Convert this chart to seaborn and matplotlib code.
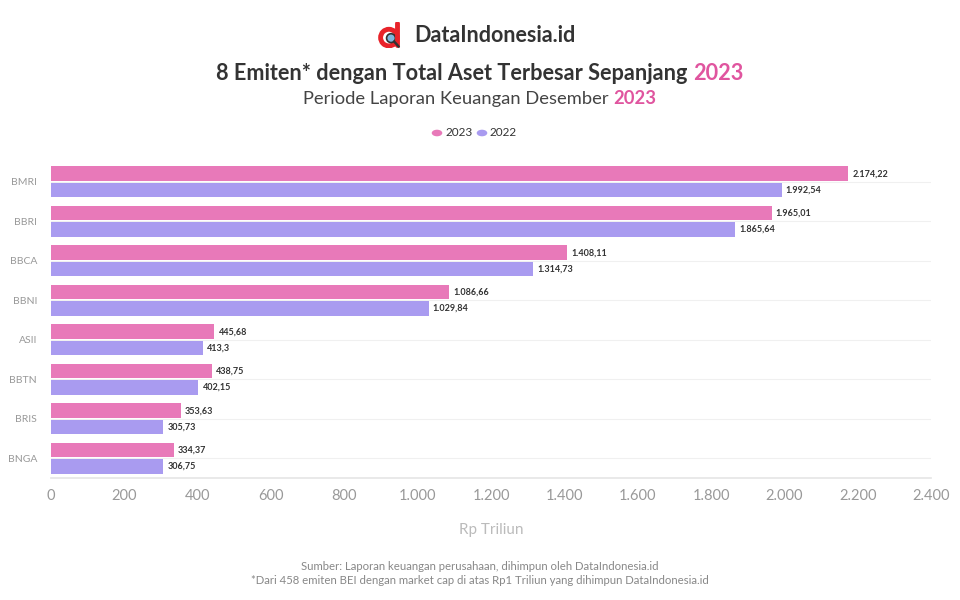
import matplotlib
matplotlib.use("Agg")
import matplotlib.pyplot as plt
import seaborn as sns
import pandas as pd
from matplotlib.patches import Circle

emiten = ["BMRI", "BBRI", "BBCA", "BBNI", "ASII", "BBTN", "BRIS", "BNGA"]
aset_2023 = [2174.22, 1965.01, 1408.11, 1086.66, 445.68, 438.75, 353.63, 334.37]
aset_2022 = [1992.54, 1865.64, 1314.73, 1029.84, 413.30, 402.15, 305.73, 306.75]
years = ["2023", "2022"]
x_ticks = [0, 200, 400, 600, 800, 1000, 1200, 1400, 1600, 1800, 2000, 2200, 2400]

PINK = "#E879B9"
PURPLE = "#A99BF0"
TITLE_PINK = "#E0559F"

df = pd.DataFrame({
    "Emiten": emiten * 2,
    "Tahun": [years[0]] * len(emiten) + [years[1]] * len(emiten),
    "Aset": aset_2023 + aset_2022,
})

sns.set_theme(style="white")
plt.rcParams["font.family"] = ["Lato", "DejaVu Sans"]

fig = plt.figure(figsize=(9.6, 6), dpi=100)
ax = fig.add_axes([51 / 960, (600 - 478) / 600, 880 / 960, (478 - 162) / 600])

sns.barplot(data=df, y="Emiten", x="Aset", hue="Tahun", order=emiten,
            hue_order=years, palette={years[0]: PINK, years[1]: PURPLE},
            orient="h", width=0.82, gap=0.1, ax=ax, legend=False,
            linewidth=0, saturation=1)

ax.set_xlim(0, 2400)
ax.set_ylim(len(emiten) - 0.5, -0.5)


def fmt(v, dec=2):
    s = f"{v:,.{dec}f}"
    if "." in s:
        s = s.rstrip("0").rstrip(".")
    return s.replace(",", "X").replace(".", ",").replace("X", ".")


for cont in ax.containers:
    labels = [fmt(b.get_width()) for b in cont]
    ax.bar_label(cont, labels=labels, padding=3, fontsize=6.5,
                 fontweight="bold", color="#333333")

ax.set_xticks(x_ticks)
ax.set_xticklabels([fmt(t, 0) for t in x_ticks], fontsize=10.5, color="#999999")
ax.tick_params(axis="x", length=4, color="#e6e6e6", pad=8, direction="in")
ax.tick_params(axis="y", length=0, pad=10, labelsize=7.5, labelcolor="#999999")
for i in range(len(emiten)):
    ax.axhline(i, color="#f0f0f0", lw=0.8, zorder=0)

for s in ["top", "right", "left"]:
    ax.spines[s].set_visible(False)
ax.spines["bottom"].set_color("#e6e6e6")
ax.set_ylabel("")
ax.set_xlabel("Rp Triliun", fontsize=11, color="#bbbbbb", labelpad=14)

# Header logo
logo_ax = fig.add_axes([378 / 960, (600 - 48) / 600, 26 / 960, 26 / 600])
logo_ax.set_xlim(0, 1); logo_ax.set_ylim(0, 1); logo_ax.axis("off")
logo_ax.add_patch(Circle((0.42, 0.4), 0.32, fc="none", ec="#E8232A", lw=3.5))
logo_ax.plot([0.74, 0.74], [0.1, 0.95], color="#E8232A", lw=3.5)
logo_ax.add_patch(Circle((0.5, 0.38), 0.17, fc="#7FB8E0", ec="#333333", lw=1.2))
logo_ax.plot([0.62, 0.8], [0.25, 0.05], color="#333333", lw=1.8)
fig.text(414 / 960, 1 - 35 / 600, "DataIndonesia.id", fontsize=15.5,
         fontweight="bold", color="#333333", va="center", ha="left")

# Title with coloured year
def colored_line(y, parts, size, weight_list):
    renderer = fig.canvas.get_renderer()
    texts = []
    total = 0
    for (s, c), w in zip(parts, weight_list):
        t = fig.text(0, y, s, fontsize=size, color=c, fontweight=w, va="center")
        bb = t.get_window_extent(renderer=renderer)
        texts.append((t, bb.width))
        total += bb.width
    x = (fig.bbox.width - total) / 2
    for t, w in texts:
        t.set_x(x / fig.bbox.width)
        x += w

colored_line(1 - 73 / 600, [("8 Emiten* dengan Total Aset Terbesar Sepanjang ", "#333333"),
                            ("2023", TITLE_PINK)], 15.6, ["bold", "bold"])
colored_line(1 - 99 / 600, [("Periode Laporan Keuangan Desember ", "#444444"),
                            ("2023", TITLE_PINK)], 13.2, ["normal", "bold"])

# Legend
leg_items = [(years[0], PINK), (years[1], PURPLE)]
lx = 437
for lab, col in leg_items:
    fig.patches.append(Circle((lx / 960, 1 - 133 / 600), 0.0055, transform=fig.transFigure,
                              fc=col, ec="none"))
    t = fig.text((lx + 8) / 960, 1 - 133 / 600, lab, fontsize=8.5, color="#333333", va="center")
    lx += 45

fig.text(0.5, 1 - 567 / 600, "Sumber: Laporan keuangan perusahaan, dihimpun oleh DataIndonesia.id",
         fontsize=8.2, color="#888888", ha="center", va="center")
fig.text(0.5, 1 - 581 / 600, "*Dari 458 emiten BEI dengan market cap di atas Rp1 Triliun yang dihimpun DataIndonesia.id",
         fontsize=8.2, color="#888888", ha="center", va="center")

fig.savefig("out.png", dpi=100)
